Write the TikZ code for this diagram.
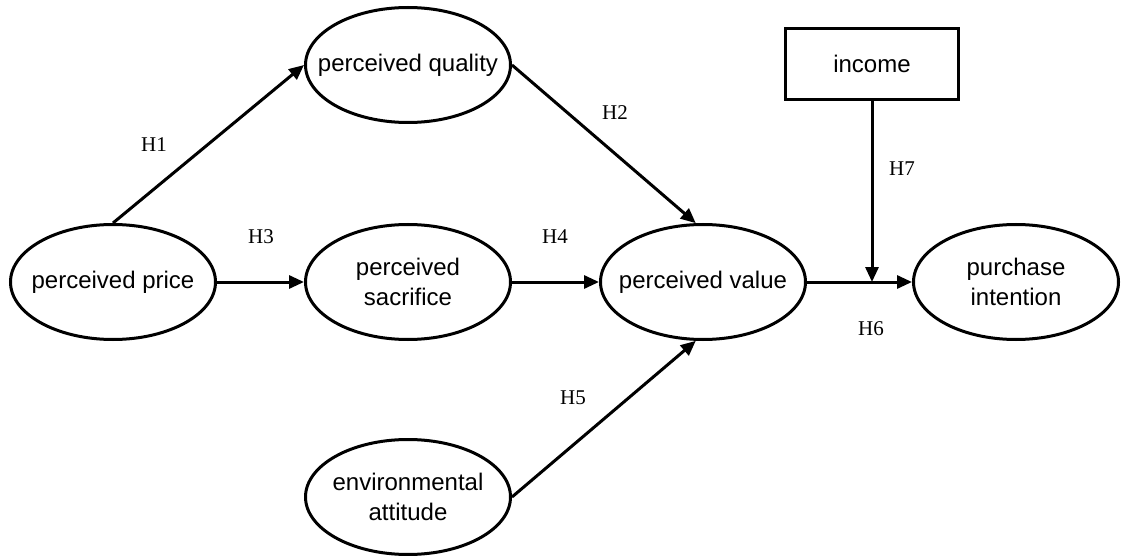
\documentclass[tikz,border=0pt]{standalone}
\usepackage{fontspec}
\setmainfont{Liberation Sans}
\newfontfamily\labfont{Liberation Serif}
\usetikzlibrary{shapes.geometric,arrows.meta,calc}
\begin{document}
\begin{tikzpicture}[x=1pt,y=-1pt,
  var/.style={ellipse,draw,line width=3pt,minimum width=205pt,minimum height=115pt,inner xsep=-60pt,inner ysep=0pt,align=center,font=\fontsize{24}{30}\selectfont},
  boxnode/.style={rectangle,draw,line width=3pt,minimum width=173pt,minimum height=71pt,inner sep=0pt,font=\fontsize{24}{30}\selectfont},
  conn/.style={line width=3pt,-{Triangle[length=15pt,width=13pt]}},
  hyp/.style={inner sep=0pt,font=\labfont\fontsize{21}{23}\selectfont}]
\useasboundingbox (0,0) rectangle (1122,556);
\node[var] (price) at (113,282) {perceived price};
\node[var] (quality) at (408,65) {perceived quality};
\node[var] (sacrifice) at (408,282) {perceived\\sacrifice};
\node[var] (value) at (703,282) {perceived value};
\node[var] (purchase) at (1016,282) {purchase\\intention};
\node[var] (env) at (408,497) {environmental\\attitude};
\node[boxnode] (income) at (872,64) {income};
\coordinate (j) at (income.south |- value.east);
\draw[conn] (price.north) -- (quality.west);
\draw[conn] (quality.east) -- (value.97);
\draw[conn] (price.east) -- (sacrifice.west);
\draw[conn] (sacrifice.east) -- (value.west);
\draw[conn] (env.east) -- (value.263);
\draw[conn] (value.east) -- (purchase.west);
\draw[conn] (income.south) -- (j);
\node[hyp] (h1) at (154,145) {H1};
\node[hyp] (h2) at (615,113) {H2};
\node[hyp] (h3) at (261,237) {H3};
\node[hyp] (h4) at (555,237) {H4};
\node[hyp] (h5) at (573,398) {H5};
\node[hyp] (h6) at (871,329) {H6};
\node[hyp] (h7) at (902,169) {H7};
\end{tikzpicture}
\end{document}
